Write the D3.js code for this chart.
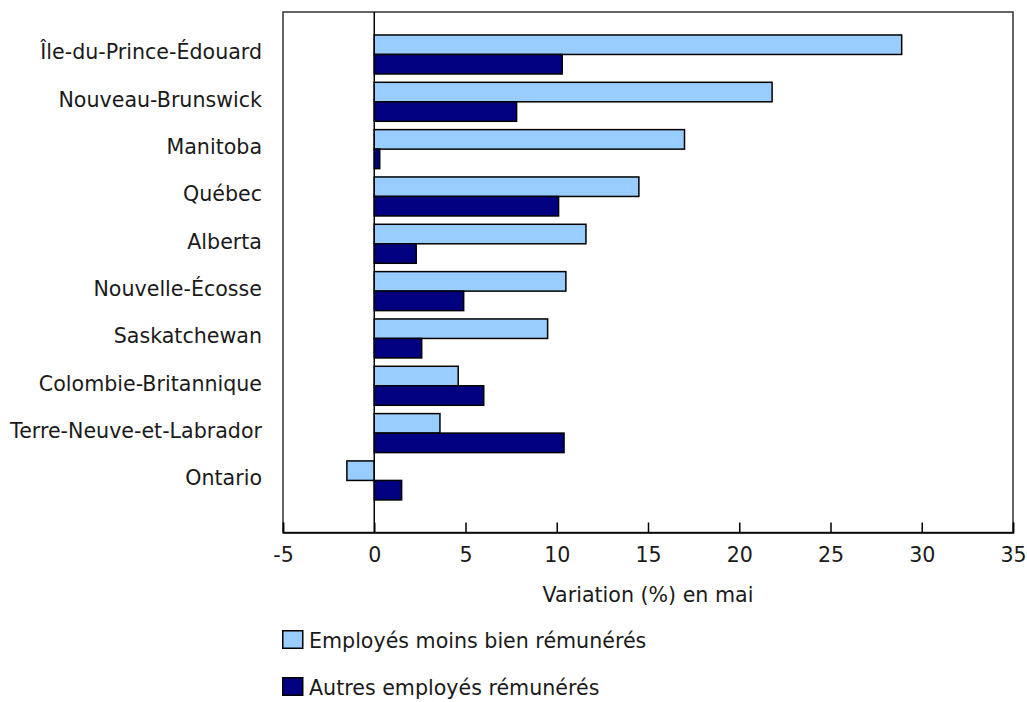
<!DOCTYPE html>
<html>
<head>
<meta charset="utf-8">
<script src="https://cdn.jsdelivr.net/npm/d3@7/dist/d3.min.js"></script>
<style>
  body { margin: 0; background: #fff; }
  svg { display: block; font-family: "DejaVu Sans", Verdana, sans-serif; }
  text { fill: #1a1a1a; }
</style>
</head>
<body>
<svg id="chart" width="1027" height="702"></svg>
<script>
const categories = [
  "Île-du-Prince-Édouard",
  "Nouveau-Brunswick",
  "Manitoba",
  "Québec",
  "Alberta",
  "Nouvelle-Écosse",
  "Saskatchewan",
  "Colombie-Britannique",
  "Terre-Neuve-et-Labrador",
  "Ontario"
];
const seriesNames = ["Employés moins bien rémunérés", "Autres employés rémunérés"];
const lowPaid = [28.9, 21.8, 17.0, 14.5, 11.6, 10.5, 9.5, 4.6, 3.6, -1.5];
const otherPaid = [10.3, 7.8, 0.3, 10.1, 2.3, 4.9, 2.6, 6.0, 10.4, 1.5];
const xTicks = [-5, 0, 5, 10, 15, 20, 25, 30, 35];
const seriesColors = ["#99CCFF", "#000080"];
const xTitle = "Variation (%) en mai";

const FS = "20.6px";
const svg = d3.select("#chart");
const plot = { left: 283, right: 1013, top: 12, bottom: 532.5 };

const x = d3.scaleLinear().domain([-5, 35]).range([plot.left, plot.right]);
const y = d3.scaleBand().domain(categories)
  .range([30.8, 504.1]).paddingInner(0.176).paddingOuter(0.088);
const ySub = d3.scaleBand().domain(seriesNames).range([0, y.bandwidth()]);

const seriesData = [lowPaid, otherPaid];

// frame
svg.append("rect")
  .attr("x", plot.left).attr("y", plot.top)
  .attr("width", plot.right - plot.left).attr("height", plot.bottom - plot.top)
  .attr("fill", "none").attr("stroke", "#333").attr("stroke-width", 1.5);

// bars
seriesNames.forEach((s, si) => {
  svg.append("g").selectAll("rect")
    .data(categories.map((c, i) => ({ c, v: seriesData[si][i] })))
    .join("rect")
    .attr("x", d => x(Math.min(0, d.v)))
    .attr("width", d => Math.abs(x(d.v) - x(0)))
    .attr("y", d => y(d.c) + ySub(s))
    .attr("height", ySub.bandwidth())
    .attr("fill", seriesColors[si])
    .attr("stroke", "#000").attr("stroke-width", 1.5);
});

// zero line
svg.append("line")
  .attr("x1", x(0)).attr("x2", x(0))
  .attr("y1", plot.top).attr("y2", plot.bottom)
  .attr("stroke", "#000").attr("stroke-width", 1.5);

// x axis
const xAxis = d3.axisBottom(x).tickValues(xTicks).tickSize(-10).tickPadding(0)
  .tickFormat(d3.format("d"));
const gx = svg.append("g").attr("transform", `translate(0,${plot.bottom})`).call(xAxis);
gx.select(".domain").attr("stroke", "#000").attr("stroke-width", 1.5);
gx.selectAll(".tick line").attr("stroke", "#000").attr("stroke-width", 1.5);
gx.selectAll(".tick text")
  .attr("y", 29.5).attr("dy", null)
  .style("font-size", FS).style("font-family", "DejaVu Sans, Verdana, sans-serif")
  .attr("fill", "#1a1a1a")
  .text(d => d < 0 ? "-" + Math.abs(d) : d);

// y labels
const yAxis = d3.axisLeft(y).tickSize(0).tickPadding(0);
const gy = svg.append("g").attr("transform", `translate(262,0)`).call(yAxis);
gy.select(".domain").remove();
gy.selectAll(".tick text")
  .attr("x", 0).attr("dy", null).attr("y", 5)
  .style("font-size", FS).style("font-family", "DejaVu Sans, Verdana, sans-serif")
  .attr("fill", "#1a1a1a");

// axis title
svg.append("text")
  .attr("x", (plot.left + plot.right) / 2).attr("y", 601.5)
  .attr("text-anchor", "middle").style("font-size", FS)
  .text(xTitle);

// legend
const legendY = [630, 677];
seriesNames.forEach((s, i) => {
  const g = svg.append("g").attr("transform", `translate(282,${legendY[i]})`);
  g.append("rect").attr("x", 0.75).attr("y", 0.75).attr("width", 20).attr("height", 17.5)
    .attr("fill", seriesColors[i]).attr("stroke", "#000").attr("stroke-width", 1.5);
  g.append("text").attr("x", 27).attr("y", 18).style("font-size", FS).text(s);
});
</script>
</body>
</html>
